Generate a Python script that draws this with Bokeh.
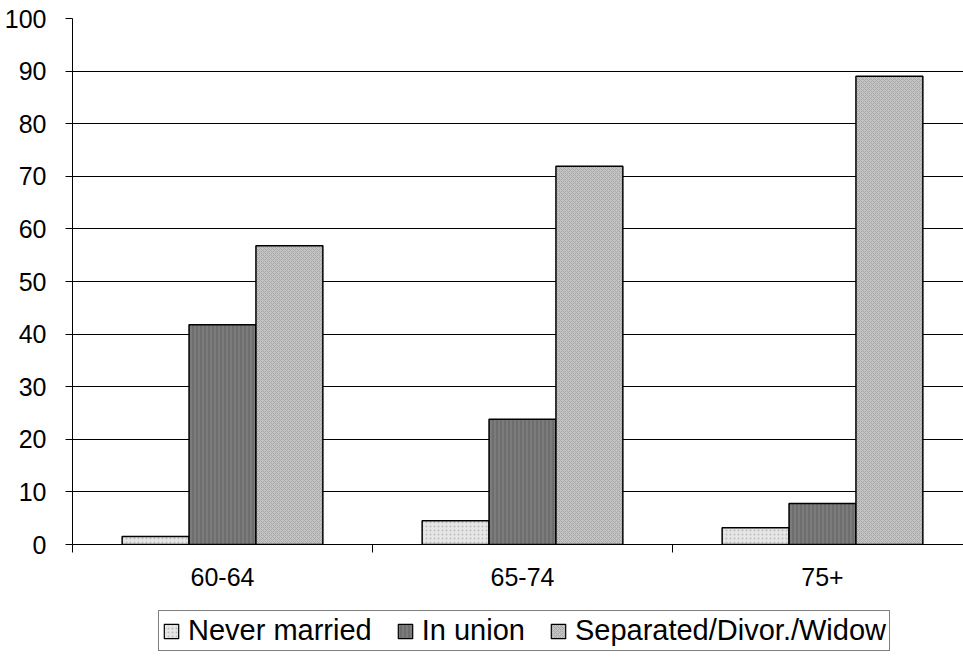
from bokeh.plotting import figure
from bokeh.models import Range1d, FixedTicker, Legend, LegendItem, ColumnDataSource
from bokeh.layouts import column
from bokeh.embed import file_html
from bokeh.resources import INLINE

categories = ["60-64", "65-74", "75+"]
series_names = ["Never married", "In union", "Separated/Divor./Widow"]
never_married = [1.5, 4.5, 3.2]
in_union = [41.8, 23.8, 7.8]
separated = [56.8, 71.9, 89.0]
y_ticks = [0, 10, 20, 30, 40, 50, 60, 70, 80, 90, 100]

series_values = [never_married, in_union, separated]
fills = ["#e6e6e6", "#6e6e6e", "#c4c4c4"]
hatches = [".", "|", "x"]
hatch_colors = ["#bdbdbd", "#8a8a8a", "#a8a8a8"]

FONT = "Liberation Sans"

p = figure(width=963, height=604, output_backend="svg", toolbar_location=None,
           x_range=Range1d(0, 2.97), y_range=Range1d(0, 100),
           min_border_left=72, min_border_right=0, min_border_top=18, min_border_bottom=60)
p.outline_line_color = None
p.background_fill_color = "white"

bar_w = 0.223
offsets = [-bar_w, 0.0, bar_w]
sources = []
for name, vals, fc, hp, hc, off in zip(series_names, series_values, fills, hatches, hatch_colors, offsets):
    xs = [i + 0.5 + off for i in range(len(categories))]
    src = ColumnDataSource(dict(x=xs, top=vals))
    sources.append(src)
    p.vbar(x="x", top="top", width=bar_w, bottom=0, source=src,
           fill_color=fc, line_color="black", line_width=1.5,
           hatch_pattern=hp, hatch_color=hc, hatch_scale=4, hatch_weight=1)

# grid
p.xgrid.grid_line_color = None
p.ygrid.ticker = FixedTicker(ticks=y_ticks)
p.ygrid.grid_line_color = "black"
p.ygrid.grid_line_width = 1

# y axis
ya = p.yaxis[0]
ya.ticker = FixedTicker(ticks=y_ticks)
ya.axis_line_color = "black"
ya.major_tick_in = 0
ya.major_tick_out = 7
ya.major_tick_line_color = "black"
ya.minor_tick_line_color = None
ya.major_label_text_font = FONT
ya.major_label_text_font_size = "25px"
ya.major_label_text_color = "black"
ya.major_label_standoff = 19

# x axis
xa = p.xaxis[0]
centers = [i + 0.5 for i in range(len(categories))]
xa.ticker = FixedTicker(ticks=centers, minor_ticks=list(range(len(categories) + 1)))
xa.major_label_overrides = {c: lab for c, lab in zip(centers, categories)}
xa.major_tick_line_color = None
xa.major_tick_out = 8
xa.major_tick_in = 0
xa.minor_tick_out = 8
xa.minor_tick_in = 0
xa.minor_tick_line_color = "black"
xa.axis_line_color = "black"
xa.major_label_text_font = FONT
xa.major_label_text_font_size = "25px"
xa.major_label_text_color = "black"
xa.major_label_standoff = 15

# legend strip below the chart (its frame is aligned with the chart's frame)
lg = figure(width=963, height=54, output_backend="svg", toolbar_location=None,
            x_range=Range1d(0, 2.97), y_range=Range1d(0, 100),
            x_axis_type=None, y_axis_type=None,
            min_border_left=72, min_border_right=0, min_border_top=0, min_border_bottom=0)
lg.outline_line_color = None
lg.xgrid.visible = False
lg.ygrid.visible = False
items = []
for name, src, fc, hp, hc in zip(series_names, sources, fills, hatches, hatch_colors):
    r = lg.vbar(x="x", top="top", width=bar_w, bottom=0, source=src,
                fill_color=fc, line_color="black", line_width=1.2,
                hatch_pattern=hp, hatch_color=hc, hatch_scale=4, hatch_weight=1,
                visible=False)
    items.append(LegendItem(label=name, renderers=[r]))

legend = Legend(items=items, orientation="horizontal", location=(86, 7),
                label_text_font=FONT, label_text_font_size="29px",
                label_text_color="black",
                border_line_color="black", border_line_width=1.2,
                glyph_width=18, glyph_height=18, label_standoff=8,
                spacing=24, padding=3, margin=0,
                inactive_fill_alpha=0.0)
lg.add_layout(legend, "center")

open("out.html", "w").write(file_html(column(p, lg, spacing=0), INLINE))
